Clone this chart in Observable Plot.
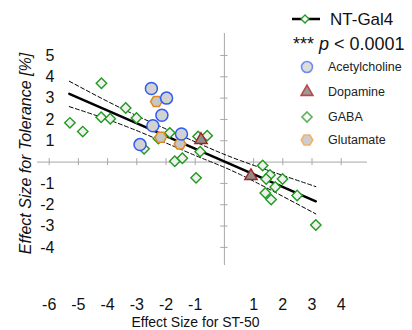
<!DOCTYPE html>
<html><head><meta charset="utf-8">
<script src="https://cdn.jsdelivr.net/npm/d3@7"></script>
<script src="https://cdn.jsdelivr.net/npm/@observablehq/plot@0.6"></script>
<style>
body{margin:0;background:#fff;}
#wrap{position:relative;width:412px;height:330px;overflow:hidden;font-family:"Liberation Sans",Arial,sans-serif;}
#legend{position:absolute;left:285px;top:0;}
</style></head><body><div id="wrap"></div>
<script>
// ---- data ----
const achX = [-2.50, -1.98, -2.14, -2.45, -1.47, -2.89];
const achY = [3.45, 3.00, 2.20, 1.70, 1.32, 0.82];
const daX = [-0.80, 0.91];
const daY = [1.04, -0.65];
const gabaX = [-5.29, -4.85, -4.21, -4.22, -3.91, -3.38, -3.01, -2.75, -2.26, -1.87, -1.70, -1.44, -0.97, -0.90, -0.59, -0.83, 1.31, 1.56, 1.43, 1.99, 1.74, 1.40, 1.60, 2.49, 3.13];
const gabaY = [1.84, 1.43, 3.70, 2.10, 2.03, 2.54, 2.07, 0.62, 1.10, 1.37, 0.04, 0.18, -0.74, 1.20, 1.24, 0.49, -0.16, -0.60, -0.79, -0.79, -1.17, -1.45, -1.76, -1.57, -2.95];
const gluX = [-2.33, -2.18, -1.52];
const gluY = [2.84, 1.16, 0.85];
const fitX = [-5.31, 3.13];
const fitY = [3.20, -1.84];
const bandX = [-5.31, -3.21, -1.00, 0.55, 3.13];
const bandUpper = [3.79, 2.31, 0.95, 0.07, -1.15];
const bandLower = [2.60, 1.59, 0.31, -0.59, -2.43];
const xTicks = [-6, -5, -4, -3, -2, -1, 1, 2, 3, 4];
const yTicks = [-4, -3, -2, -1, 1, 2, 3, 4, 5];
const seriesName = "NT-Gal4";
const pText = "< 0.0001";
const legendLabels = ["Acetylcholine", "Dopamine", "GABA", "Glutamate"];
const xTitle = "Effect Size for ST-50";
const yTitle = "Effect Size for Tolerance [%]";

const rows = (xs, ys) => xs.map((x, i) => ({x, y: ys[i]}));
const bandRows = bandX.map((x, i) => ({x, u: bandUpper[i], l: bandLower[i]}));
const axisGray = "#a8a8a8";
const font = "'Liberation Sans', Arial, sans-serif";

const chart = Plot.plot({
  width: 412, height: 330,
  marginLeft: 37, marginRight: 45, marginTop: 33, marginBottom: 65,
  x: {domain: [-6.4, 4.9], axis: null},
  y: {domain: [-4.85, 6.03], axis: null},
  style: {fontFamily: font, background: "transparent", color: "#000"},
  marks: [
    Plot.ruleX([0], {stroke: axisGray, strokeWidth: 1}),
    Plot.ruleY([0], {stroke: axisGray, strokeWidth: 1}),
    Plot.ruleX(xTicks, {x: d => d, y1: -0.165, y2: 0.165, stroke: axisGray}),
    Plot.ruleY(yTicks, {y: d => d, x1: -0.125, x2: 0.125, stroke: axisGray}),
    Plot.text(xTicks, {x: d => d, frameAnchor: "bottom", lineAnchor: "middle", dy: 39, text: d => String(d), fontSize: 16, fill: "#111"}),
    Plot.text(yTicks, {y: d => d, frameAnchor: "left", textAnchor: "end", lineAnchor: "middle", dx: 17, text: d => String(d), fontSize: 16, fill: "#111"}),
    Plot.text([xTitle], {frameAnchor: "bottom", textAnchor: "middle", lineAnchor: "middle", dx: -7, dy: 57.5, fontSize: 14, fill: "#111"}),
    Plot.text([yTitle], {frameAnchor: "left", textAnchor: "middle", lineAnchor: "middle", dx: -12, dy: 4, rotate: -90, fontSize: 16, fontStyle: "italic", fill: "#111"}),
    Plot.line(bandRows, {x: "x", y: "u", stroke: "#000", strokeWidth: 1, strokeDasharray: "4,2.5", curve: "natural"}),
    Plot.line(bandRows, {x: "x", y: "l", stroke: "#000", strokeWidth: 1, strokeDasharray: "4,2.5", curve: "natural"}),
    Plot.line(rows(fitX, fitY), {x: "x", y: "y", stroke: "#000", strokeWidth: 2.5}),
    Plot.dot(rows(gabaX, gabaY), {x: "x", y: "y", symbol: "diamond2", r: 4.7, stroke: "#1f9a1f", strokeWidth: 1.4, fill: "#f0f0f0"}),
    Plot.dot(rows(daX, daY), {x: "x", y: "y", symbol: "triangle", r: 4.6, stroke: "#a3221c", strokeWidth: 1.4, fill: "#8e8e8e"}),
    Plot.dot(rows(gluX, gluY), {x: "x", y: "y", symbol: "hexagon", rotate: 90, r: 5, stroke: "#e08a1e", strokeWidth: 1.5, fill: "#c6c6c6"}),
    Plot.dot(rows(achX, achY), {x: "x", y: "y", symbol: "circle", r: 6, stroke: "#2f5cf5", strokeWidth: 1.5, fill: "#d2d2d2"})
  ]
});
const wrap = document.getElementById("wrap");
wrap.appendChild(chart);

// ---- legend ----
const leg = d3.select(wrap).append("svg").attr("id", "legend")
  .attr("width", 127).attr("height", 155)
  .style("font-family", font);
leg.append("line").attr("x1", 7).attr("x2", 35).attr("y1", 19).attr("y2", 19)
  .attr("stroke", "#000").attr("stroke-width", 2.5);
leg.append("path").attr("transform", "translate(20,19)")
  .attr("d", d3.symbol(d3.symbolDiamond2, 40)())
  .attr("fill", "#fff").attr("stroke", "#1f9a1f").attr("stroke-width", 1.3);
leg.append("text").attr("x", 45).attr("y", 25).attr("font-size", 17).attr("fill", "#111").text(seriesName);
const pt = leg.append("text").attr("x", 8).attr("y", 50).attr("font-size", 18).attr("fill", "#111");
pt.append("tspan").text("*** ");
pt.append("tspan").attr("font-style", "italic").text("p");
pt.append("tspan").text(" " + pText);

const legSyms = [
  {type: d3.symbolCircle, size: Math.PI * 5.5 * 5.5, stroke: "#6d8df2", fill: "#dcdcdc"},
  {type: d3.symbolTriangle, size: 60, stroke: "#bb4a44", fill: "#9a9a9a"},
  {type: d3.symbolDiamond2, size: 65, stroke: "#5cb35c", fill: "#fafafa"},
  {type: {draw(ctx, size) { const rx = Math.sqrt(size / Math.PI), ry = rx * 2 / Math.sqrt(3), hy = ry / 2;
      ctx.moveTo(ry, 0); ctx.lineTo(hy, rx); ctx.lineTo(-hy, rx); ctx.lineTo(-ry, 0); ctx.lineTo(-hy, -rx); ctx.lineTo(hy, -rx); ctx.closePath(); }},
   size: Math.PI * 25, stroke: "#f3b06a", fill: "#cdcdcd"}
];
const legY = [67, 92, 117, 140];
legendLabels.forEach((lab, i) => {
  const s = legSyms[i];
  leg.append("path").attr("transform", `translate(22,${legY[i]})`)
    .attr("d", d3.symbol(s.type, s.size)())
    .attr("fill", s.fill).attr("stroke", s.stroke).attr("stroke-width", 1.6);
  leg.append("text").attr("x", 43).attr("y", legY[i]).attr("dy", "0.35em")
    .attr("font-size", 12.5).attr("fill", "#222").text(lab);
});
</script></body></html>
